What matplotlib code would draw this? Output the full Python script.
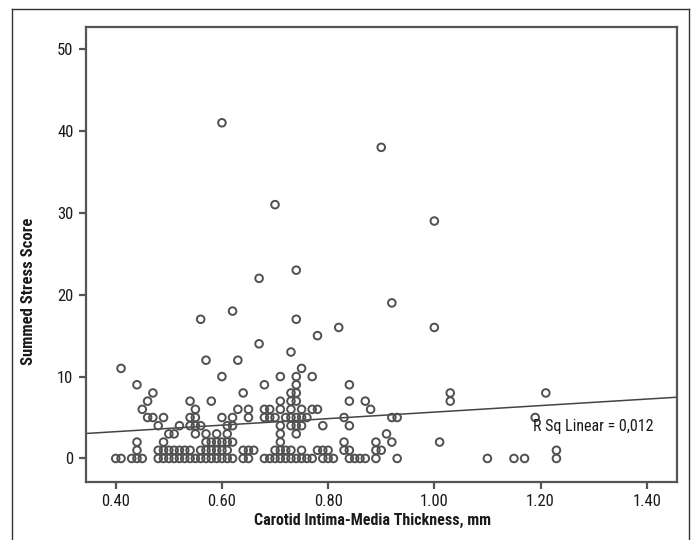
import matplotlib
matplotlib.use("Agg")
import matplotlib.pyplot as plt
import numpy as np
from matplotlib.lines import Line2D

# ---- data (CIMT in mm, Summed Stress Score) ----
cimt_ss0 = [0.40, 0.41, 0.43, 0.44, 0.45, 0.48, 0.49, 0.50, 0.51, 0.52, 0.53, 0.54,
            0.55, 0.56, 0.57, 0.58, 0.59, 0.60, 0.61, 0.62, 0.64, 0.65, 0.68, 0.69,
            0.70, 0.71, 0.72, 0.73, 0.74, 0.75, 0.76, 0.77, 0.79, 0.80, 0.81, 0.84,
            0.85, 0.86, 0.87, 0.89, 0.93, 1.10, 1.15, 1.17, 1.23]
cimt_ss1 = [0.44, 0.48, 0.49, 0.50, 0.51, 0.52, 0.53, 0.54, 0.56, 0.57, 0.58, 0.59,
            0.60, 0.61, 0.64, 0.65, 0.66, 0.70, 0.71, 0.72, 0.73, 0.75, 0.78, 0.79,
            0.80, 0.83, 0.84, 0.89, 0.90, 1.23]
cimt_ss2 = [0.44, 0.49, 0.57, 0.58, 0.59, 0.60, 0.61, 0.62, 0.71, 0.83, 0.89, 0.92, 1.01]
cimt_ss3 = [0.50, 0.51, 0.55, 0.57, 0.59, 0.61, 0.71, 0.74, 0.91]
cimt_ss4 = [0.48, 0.52, 0.54, 0.55, 0.56, 0.61, 0.62, 0.71, 0.73, 0.74, 0.75, 0.79, 0.84]
cimt_ss5 = [0.46, 0.47, 0.49, 0.54, 0.55, 0.60, 0.62, 0.65, 0.68, 0.69, 0.70, 0.72,
            0.73, 0.74, 0.75, 0.76, 0.83, 0.92, 0.93, 1.19]
cimt_ss6 = [0.45, 0.55, 0.63, 0.65, 0.68, 0.69, 0.71, 0.73, 0.75, 0.77, 0.78, 0.88]
cimt_ss7 = [0.46, 0.54, 0.58, 0.71, 0.73, 0.74, 0.84, 0.87, 1.03]
cimt_ss8 = [0.47, 0.64, 0.73, 0.74, 1.03, 1.21]

cimt_high = [0.44, 0.68, 0.74, 0.84, 0.60, 0.71, 0.74, 0.77, 0.41, 0.75, 0.57, 0.63,
             0.73, 0.67, 0.78, 0.82, 1.00, 0.56, 0.74, 0.62, 0.92, 0.67, 0.74, 1.00,
             0.70, 0.90, 0.60]
sss_high = [9, 9, 9, 9, 10, 10, 10, 10, 11, 11, 12, 12,
            13, 14, 15, 16, 16, 17, 17, 18, 19, 22, 23, 29,
            31, 38, 41]

# Linear fit shown in the reference (R Sq Linear = 0,012)
fit_intercept = 1.68
fit_slope = 3.98
r_sq_label = "R Sq Linear = 0,012"

x_ticks = [0.40, 0.60, 0.80, 1.00, 1.20, 1.40]
y_ticks = [0, 10, 20, 30, 40, 50]

# ---- assemble ----
low_groups = [cimt_ss0, cimt_ss1, cimt_ss2, cimt_ss3, cimt_ss4,
              cimt_ss5, cimt_ss6, cimt_ss7, cimt_ss8]
xs, ys = [], []
for level, grp in enumerate(low_groups):
    xs.extend(grp)
    ys.extend([level] * len(grp))
xs.extend(cimt_high)
ys.extend(sss_high)
xs = np.array(xs)
ys = np.array(ys)

FONT = ['Liberation Sans Narrow', 'Roboto Condensed', 'Liberation Sans', 'DejaVu Sans']
plt.rcParams['font.family'] = FONT

W, H = 696, 540
fig = plt.figure(figsize=(W / 100, H / 100), dpi=100)
fig.patch.set_facecolor('white')

L, R, T, B = 86, 676.7, 27, 481.7
ax = fig.add_axes([L / W, 1 - B / H, (R - L) / W, (B - T) / H])
ax.set_xlim(0.344, 1.4565)
ax.set_ylim(-2.84, 52.7)

ax.scatter(xs, ys, s=30, facecolors='none', edgecolors='#505050', linewidths=1.4, zorder=3)

xl = np.array(ax.get_xlim())
ax.plot(xl, fit_intercept + fit_slope * xl, color='#444444', lw=1.1, zorder=2)

ax.text(1.185, 3.93, r_sq_label, ha='left', va='center', fontsize=11.5, color='#1a1a1a')

ax.set_xticks(x_ticks)
ax.set_xticklabels([f"{v:.2f}" for v in x_ticks])
ax.set_yticks(y_ticks)
ax.set_yticklabels([str(v) for v in y_ticks])
for side in ['left', 'bottom', 'top', 'right']:
    ax.spines[side].set_color('#555555')
    ax.spines[side].set_linewidth(1.6)
ax.tick_params(axis='both', direction='out', length=5, width=1.6, color='#555555',
               labelsize=12, labelcolor='#1a1a1a', pad=4)

fig.text(373 / W, 1 - 520 / H, "Carotid Intima-Media Thickness, mm", ha='center', va='center',
         fontsize=11.5, fontweight='bold', color='#1a1a1a')
fig.text(28.5 / W, 1 - 291 / H, "Summed Stress Score", ha='center', va='center', rotation=90,
         fontsize=12, fontweight='bold', color='#1a1a1a')

# outer frame of the figure panel
for (x0, y0, x1, y1) in [(12, 9, 12, 545), (12, 9, 689, 9), (689, 9, 689, 545)]:
    fig.add_artist(Line2D([x0 / W, x1 / W], [1 - y0 / H, 1 - y1 / H], transform=fig.transFigure,
                          color='#333333', lw=1.0))

fig.savefig("out.png", dpi=100)
